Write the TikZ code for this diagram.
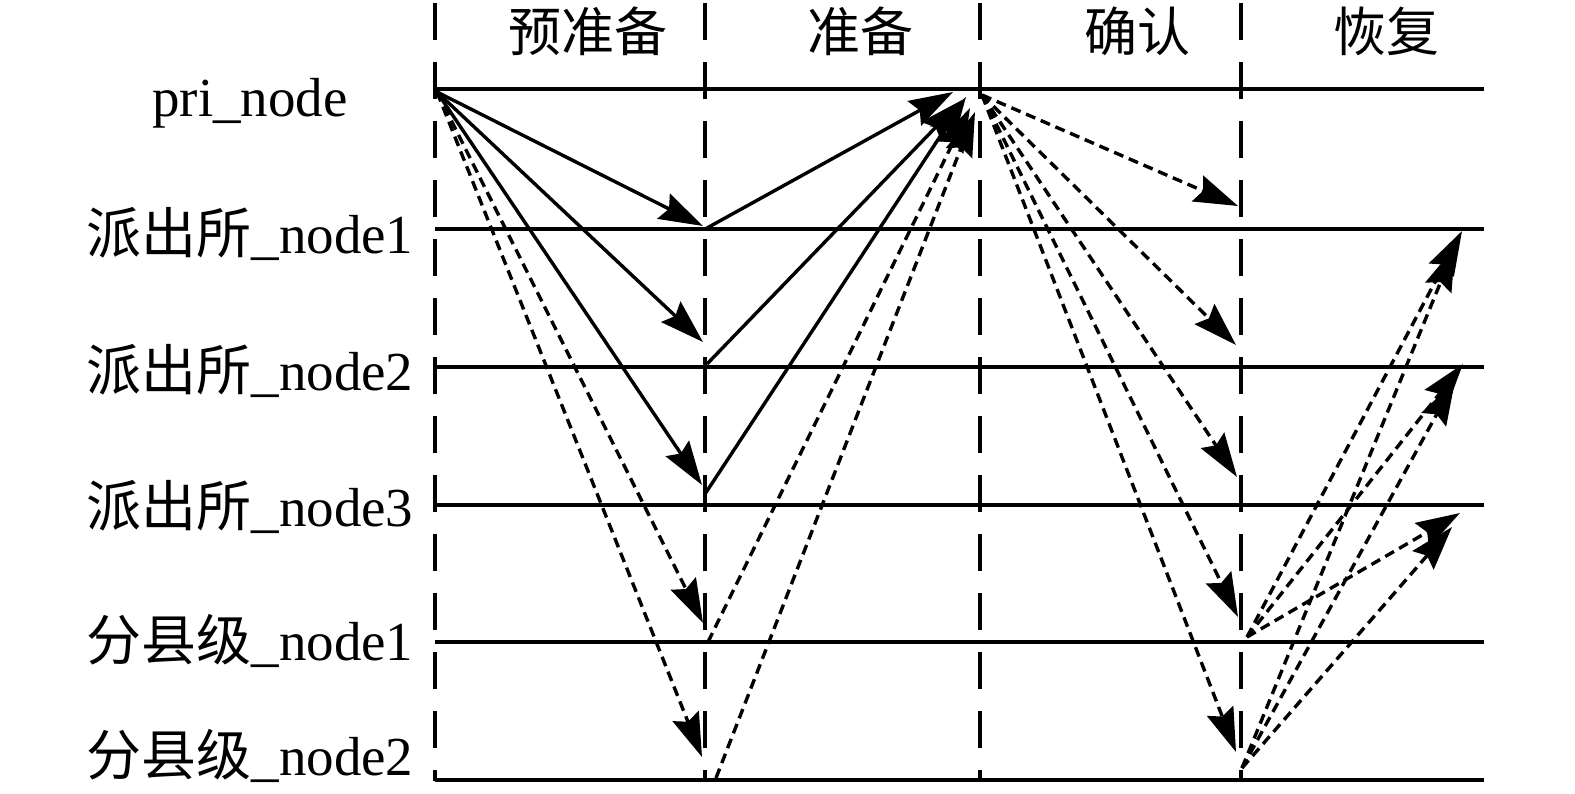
\documentclass[tikz,border=0pt]{standalone}
\usepackage{fontspec}
\setmainfont{Liberation Serif}
\newfontfamily\cjk{Noto Sans CJK SC}
\usetikzlibrary{arrows.meta}
\begin{document}
\begin{tikzpicture}[x=1pt,y=-1pt,
  axis/.style={line width=3.6pt},
  phase/.style={line width=3.4pt, dash pattern=on 37pt off 22pt},
  msg/.style={line width=3.4pt, -{Stealth[length=44pt,width=28pt,inset=6pt]}},
  dmsg/.style={msg, dash pattern=on 10pt off 6pt},
  lbl/.style={anchor=base, inner sep=0pt, font=\fontsize{55}{62}\selectfont},
  ttl/.style={anchor=base, inner sep=0pt, font=\fontsize{53}{60}\selectfont}]
\useasboundingbox (0,0) rectangle (1575,793);

% phase separators
\foreach \x/\n in {435/1,705/2,980/3,1241/4}{
  \coordinate (v\n t) at (\x,3);
  \coordinate (v\n b) at (\x,781);
  \draw[phase] (v\n t) -- (v\n b);
}

% node time lines
\foreach \y/\n in {89/0,229/1,367/2,505/3,642/4,780/5}{
  \coordinate (h\n l) at (435,\y);
  \coordinate (h\n r) at (1484,\y);
  \draw[axis] (h\n l) -- (h\n r);
}

% labels
\node[lbl] (Lpri) at (250,116) {pri\_node};
\node[lbl] (L1) at (250,253) {{\cjk 派出所}\_node1};
\node[lbl] (L2) at (250,390) {{\cjk 派出所}\_node2};
\node[lbl] (L3) at (250,526) {{\cjk 派出所}\_node3};
\node[lbl] (L4) at (250,660) {{\cjk 分县级}\_node1};
\node[lbl] (L5) at (250,775) {{\cjk 分县级}\_node2};

\node[ttl] (T1) at (588,51) {\cjk 预准备};
\node[ttl] (T2) at (860,51) {\cjk 准备};
\node[ttl] (T3) at (1137,51) {\cjk 确认};
\node[ttl] (T4) at (1386,51) {\cjk 恢复};

% phase 1: pre-prepare
\coordinate (p1) at (437,92);
\coordinate (a1) at (703,226);
\coordinate (a2) at (703,342);
\coordinate (a3) at (702,485);
\coordinate (a4) at (703,623);
\coordinate (a5) at (702,757);
\draw[msg] (p1) -- (a1);
\draw[msg] (p1) -- (a2);
\draw[msg] (p1) -- (a3);
\draw[dmsg] (p1) -- (a4);
\draw[dmsg] (p1) -- (a5);

% phase 2: prepare
\coordinate (b1) at (707,228);
\coordinate (b2) at (707,364);
\coordinate (b3) at (705,494);
\coordinate (b4) at (708,642);
\coordinate (b5) at (716,778);
\coordinate (c1) at (953,92);
\coordinate (c2) at (962,100);
\coordinate (c3) at (966,97);
\coordinate (c4) at (970,108);
\coordinate (c5) at (975,112);
\draw[msg] (b1) -- (c1);
\draw[msg] (b2) -- (c2);
\draw[msg] (b3) -- (c3);
\draw[dmsg] (b4) -- (c4);
\draw[dmsg] (b5) -- (c5);

% phase 3: commit
\coordinate (p3) at (982,95);
\coordinate (d1) at (1238,206);
\coordinate (d2) at (1236,345);
\coordinate (d3) at (1237,477);
\coordinate (d4) at (1238,617);
\coordinate (d5) at (1236,752);
\draw[dmsg] (p3) -- (d1);
\draw[dmsg] (p3) -- (d2);
\draw[dmsg] (p3) -- (d3);
\draw[dmsg] (p3) -- (d4);
\draw[dmsg] (p3) -- (d5);

% phase 4: recovery
\coordinate (e1) at (1247,637);
\coordinate (e2) at (1242,768);
\coordinate (f11) at (1462,231);
\coordinate (f12) at (1463,364);
\coordinate (f13) at (1460,513);
\coordinate (f21) at (1455,247);
\coordinate (f22) at (1455,381);
\coordinate (f23) at (1452,527);
\draw[dmsg] (e1) -- (f11);
\draw[dmsg] (e1) -- (f12);
\draw[dmsg] (e1) -- (f13);
\draw[dmsg] (e2) -- (f21);
\draw[dmsg] (e2) -- (f22);
\draw[dmsg] (e2) -- (f23);
\end{tikzpicture}
\end{document}
